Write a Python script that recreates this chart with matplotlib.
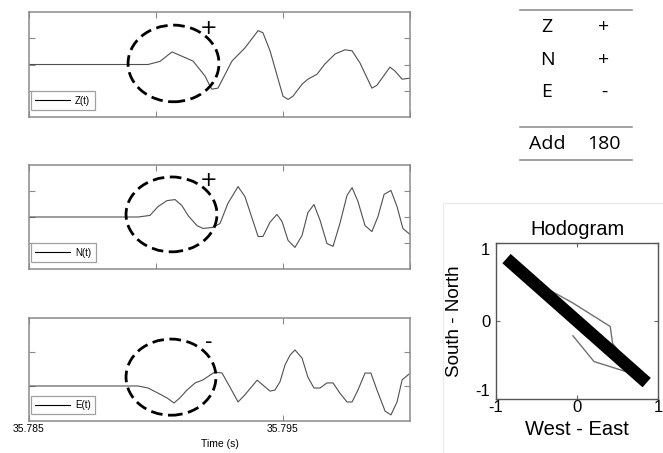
import matplotlib
matplotlib.use("Agg")
import matplotlib.pyplot as plt
from matplotlib.patches import Ellipse
from matplotlib.lines import Line2D

# ---------------- data ----------------
z_t = [35.78500, 35.78969, 35.79016, 35.79063, 35.79146, 35.79193, 35.79213, 35.79220,
       35.79244, 35.79299, 35.79350, 35.79402, 35.79421, 35.79449, 35.79500, 35.79520,
       35.79539, 35.79575, 35.79598, 35.79634, 35.79665, 35.79705, 35.79744, 35.79772,
       35.79803, 35.79850, 35.79870, 35.79921, 35.79941, 35.79969, 35.80000]
z_a = [0.0, 0.0, 0.12, 0.48, 0.13, -0.44, -0.83, -0.94,
       -0.90, 0.13, 0.63, 1.29, 1.21, 0.52, -1.21, -1.33,
       -1.21, -0.75, -0.56, -0.37, 0.02, 0.40, 0.56, 0.52,
       0.06, -0.90, -0.79, -0.10, -0.25, -0.56, -0.52]

n_t = [35.78500, 35.78929, 35.78976, 35.79008, 35.79043, 35.79075, 35.79102, 35.79126,
       35.79161, 35.79185, 35.79224, 35.79252, 35.79283, 35.79323, 35.79350, 35.79402,
       35.79421, 35.79449, 35.79476, 35.79496, 35.79520, 35.79547, 35.79575, 35.79598,
       35.79622, 35.79646, 35.79673, 35.79697, 35.79724, 35.79752, 35.79772, 35.79795,
       35.79823, 35.79850, 35.79874, 35.79898, 35.79925, 35.79949, 35.79972, 35.80000]
n_a = [0.0, 0.0, 0.06, 0.40, 0.63, 0.67, 0.44, 0.06,
       -0.33, -0.44, -0.40, -0.25, 0.52, 1.17, 0.79, -0.75,
       -0.75, -0.20, 0.10, -0.17, -0.90, -1.17, -0.71, 0.17,
       0.48, -0.13, -1.02, -1.13, -0.25, 0.83, 1.13, 0.60,
       -0.33, -0.56, 0.02, 0.87, 1.02, 0.40, -0.44, -0.67]

e_t = [35.78500, 35.78929, 35.78969, 35.79008, 35.79043, 35.79071, 35.79094, 35.79122,
       35.79154, 35.79185, 35.79213, 35.79232, 35.79260, 35.79291, 35.79323, 35.79350,
       35.79398, 35.79449, 35.79468, 35.79488, 35.79508, 35.79528, 35.79547, 35.79575,
       35.79598, 35.79622, 35.79646, 35.79673, 35.79697, 35.79724, 35.79752, 35.79772,
       35.79795, 35.79823, 35.79846, 35.79870, 35.79902, 35.79925, 35.79949, 35.79969,
       35.79996]
e_a = [0.0, 0.0, -0.06, -0.21, -0.35, -0.50, -0.35, -0.12,
       0.09, 0.18, 0.32, 0.41, 0.38, -0.03, -0.47, -0.26,
       0.17, -0.15, -0.12, 0.12, 0.62, 0.91, 1.06, 0.82,
       0.26, -0.06, -0.06, 0.09, 0.09, -0.21, -0.47, -0.47,
       -0.12, 0.38, 0.38, -0.12, -0.74, -0.85, -0.47, 0.18,
       0.35]

labels = ["Z(t)", "N(t)", "E(t)"]
signs = ["+", "+", "-"]

# ellipse (center t, center a, width s, height amp)
ell_ct = [35.79069, 35.79061, 35.79059]
ell_ca = [0.04, 0.10, 0.26]
ell_w = [0.00358, 0.00358, 0.00354]
ell_h = [2.92, 2.88, 2.24]
sign_t = [35.79205, 35.79205, 35.79209]
sign_a = [1.38, 1.42, 1.29]

table_rows = [("Z", "+"), ("N", "+"), ("E", "-")]
table_total = ("Add", "180")

hodo_we = [-0.05, 0.21, 0.64, 0.30, -0.31, -0.05, 0.41, 0.44, 0.56]
hodo_sn = [-0.19, -0.52, -0.66, -0.30, 0.38, 0.23, -0.07, -0.29, -0.44]
pol_we = [-0.87, 0.86]
pol_sn = [0.80, -0.79]

# ---------------- figure ----------------
W, H = 663, 453
fig = plt.figure(figsize=(W / 100, H / 100), dpi=100)
plt.rcParams['font.family'] = ['Liberation Sans', 'DejaVu Sans']

def fbox(x0, y0, x1, y1):
    return [x0 / W, 1 - y1 / H, (x1 - x0) / W, (y1 - y0) / H]

panel_px = [(29, 12, 410, 117), (29, 165, 410, 269), (29, 318, 410, 421)]
ylims = [(-2.0, 2.0), (-2.0, 2.0), (-1.03, 2.0)]
series = [(z_t, z_a), (n_t, n_a), (e_t, e_a)]
frame_col = '#8a8a8a'

for i in range(3):
    ax = fig.add_axes(fbox(*panel_px[i]))
    tt, aa = series[i]
    ax.plot(tt, aa, color='#505050', lw=0.8, label=labels[i])
    ax.set_xlim(35.785, 35.800)
    ax.set_ylim(*ylims[i])
    if i < 2:
        ax.set_xticks([35.785, 35.790, 35.795, 35.800])
        ax.set_xticklabels([])
        ax.set_yticks([-1, 0, 1])
    else:
        ax.set_xticks([35.785, 35.795])
        ax.set_xticklabels(["35.785", "35.795"], fontsize=7.5)
        ax.set_yticks([0, 1])
        ax.set_xlabel("Time (s)", fontsize=7.5, labelpad=4)
    ax.set_yticklabels([])
    ax.tick_params(direction='in', length=4, width=0.8, color=frame_col,
                   top=True, right=True, pad=2)
    for s in ax.spines.values():
        s.set_color(frame_col)
        s.set_linewidth(1.1)
    e = Ellipse((ell_ct[i], ell_ca[i]), ell_w[i], ell_h[i], fill=False,
                edgecolor='black', lw=2.0, linestyle=(0, (4.2, 2.0)), zorder=5)
    ax.add_patch(e)
    ax.text(sign_t[i], sign_a[i], signs[i], fontsize=15, ha='center', va='center',
            family=['DejaVu Sans'], zorder=6)
    leg = ax.legend(handles=[Line2D([0], [0], color='black', lw=0.8)], labels=[labels[i]],
                    loc='lower left', bbox_to_anchor=(0.005, 0.065), borderaxespad=0,
                    fontsize=7, handlelength=3.6, handletextpad=0.5, borderpad=0.45,
                    fancybox=False, framealpha=1)
    leg.get_frame().set_edgecolor('#a0a0a0')
    leg.get_frame().set_linewidth(0.9)

# ---------------- table ----------------
tab_font = ['Open Sans', 'DejaVu Sans']
for y in (10.3, 127.3, 159.7):
    fig.add_artist(Line2D([520 / W, 632 / W], [1 - y / H, 1 - y / H], color='#888888', lw=1.1))
row_y = [27.5, 60, 92]
for (a, b), y in zip(table_rows, row_y):
    fig.text(547 / W, 1 - y / H, a, ha='center', va='center', fontsize=14, family=tab_font)
    fig.text(604 / W, 1 - y / H, b, ha='center', va='center', fontsize=14, family=tab_font)
fig.text(547 / W, 1 - 144 / H, table_total[0], ha='center', va='center', fontsize=14, family=tab_font)
fig.text(604 / W, 1 - 144 / H, table_total[1], ha='center', va='center', fontsize=14, family=tab_font)

# faint frame around hodogram figure
fig.add_artist(Line2D([443 / W, 443 / W], [0, 1 - 203 / H], color='#ececec', lw=1))
fig.add_artist(Line2D([443 / W, 1], [1 - 203 / H, 1 - 203 / H], color='#ececec', lw=1))

# ---------------- hodogram ----------------
hx = fig.add_axes(fbox(496, 243, 658, 399))
hx.plot(hodo_we, hodo_sn, color='#707070', lw=1.0, zorder=2)
hx.plot(pol_we, pol_sn, color='black', lw=9, solid_capstyle='butt', zorder=3)
hx.set_xlim(-1, 1)
hx.set_ylim(-1, 1)
hx.set_xticks([-1, 0, 1])
hx.set_yticks([-1, 0, 1])
hx.set_xticklabels(["-1", "0", "1"])
hx.set_yticklabels(["-1", "0", "1"])
hx.tick_params(direction='in', length=3, width=0.8, color='#666666', top=True, right=True,
               labelsize=12)
hx.tick_params(axis='x', pad=1)
hx.tick_params(axis='y', pad=4)
ylab = hx.get_yticklabels()
ylab[0].set_va('bottom')
ylab[2].set_va('top')
for s in hx.spines.values():
    s.set_color('#555555')
    s.set_linewidth(1.0)
hx.set_title("Hodogram", fontsize=14.5, pad=6)
hx.set_xlabel("West - East", fontsize=14.5, labelpad=3)
hx.set_ylabel("South - North", fontsize=13.5, labelpad=9)

fig.savefig("out.png", dpi=100)
